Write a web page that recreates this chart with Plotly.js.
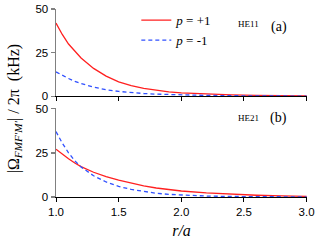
<!DOCTYPE html>
<html>
<head>
<meta charset="utf-8">
<script src="https://cdn.plot.ly/plotly-3.0.1.min.js"></script>
<style>html,body{margin:0;padding:0;background:#fff;}#chart{width:315px;height:246px;}</style>
</head>
<body>
<div id="chart"></div>
<script>
// r/a sample positions
var rA = [1.0, 1.05, 1.1, 1.15, 1.2, 1.3, 1.4, 1.5, 1.6, 1.7, 1.8, 1.9, 2.0, 2.2, 2.4, 2.6, 2.8, 3.0];
// Panel (a) HE11
var he11Plus  = [42, 35.5, 30, 25.8, 22, 16, 11.6, 8.3, 6.1, 4.5, 3.4, 2.6, 2.0, 1.25, 0.8, 0.5, 0.32, 0.2];
var he11Minus = [14, 12, 10.2, 8.6, 7.3, 5.3, 3.8, 2.8, 2.1, 1.6, 1.25, 1.0, 0.8, 0.5, 0.33, 0.22, 0.14, 0.1];
// Panel (b) HE21
var he21Plus  = [27, 24.2, 21.6, 19.2, 17.2, 14, 11.5, 9.5, 7.8, 6.3, 5.1, 4.2, 3.4, 2.3, 1.5, 1.0, 0.65, 0.4];
var he21Minus = [37, 30.5, 25, 20.5, 17, 12, 8.5, 6.0, 4.3, 3.0, 2.1, 1.5, 1.05, 0.55, 0.3, 0.17, 0.09, 0.05];
var legendNames = ['<i>p</i> = +1', '<i>p</i> = -1'];
var xTicks = [1.0, 1.5, 2.0, 2.5, 3.0];
var xTickText = ['1.0', '1.5', '2.0', '2.5', '3.0'];
var yTicks = [0, 25, 50];

var red = '#ff2020', blue = '#3050ff';
var traces = [
  {x: rA, y: he11Plus, xaxis: 'x', yaxis: 'y2', mode: 'lines', name: legendNames[0],
   line: {color: red, width: 1.3}, showlegend: true},
  {x: rA, y: he11Minus, xaxis: 'x', yaxis: 'y2', mode: 'lines', name: legendNames[1],
   line: {color: blue, width: 1.3, dash: '4px,3px'}, showlegend: true},
  {x: rA, y: he21Plus, xaxis: 'x2', yaxis: 'y', mode: 'lines',
   line: {color: red, width: 1.3}, showlegend: false},
  {x: rA, y: he21Minus, xaxis: 'x2', yaxis: 'y', mode: 'lines',
   line: {color: blue, width: 1.3, dash: '4px,3px'}, showlegend: false}
];

var tickFont = {family: 'Liberation Sans, Arial, sans-serif', size: 11.5, color: '#000'};
var serif = 'Liberation Serif, Times New Roman, serif';
function xa(showLabels, anchor) {
  return {range: [1.0, 3.003], anchor: anchor, tickvals: xTicks, ticktext: xTickText,
    showticklabels: showLabels, ticks: 'outside', ticklen: 4, tickcolor: '#000', tickwidth: 1,
    showline: true, linecolor: '#000', linewidth: 1, showgrid: false, zeroline: false,
    tickfont: tickFont, ticklabeloverflow: 'allow'};
}
function ya(domain, anchor) {
  return {range: [0, 50.1], domain: domain, anchor: anchor, tickvals: yTicks,
    ticks: 'outside', ticklen: 4, tickcolor: '#808080', tickwidth: 1.5,
    showline: true, linecolor: '#808080', linewidth: 1.5, showgrid: false, zeroline: false,
    tickfont: tickFont, ticklabeloverflow: 'allow'};
}
var layout = {
  width: 315, height: 246,
  margin: {l: 56, r: 8, t: 5, b: 49},
  paper_bgcolor: '#fff', plot_bgcolor: '#fff',
  xaxis: xa(false, 'y2'),
  xaxis2: Object.assign(xa(true, 'y'), {matches: 'x', title: {text: '<i>r/a</i>', font: {family: serif, size: 16, color: '#000'}, standoff: 8}}),
  yaxis: ya([0, 0.471], 'x2'),
  yaxis2: ya([0.5356, 1], 'x'),
  showlegend: true,
  legend: {x: 0.32, y: 1.02, xanchor: 'left', yanchor: 'top', bgcolor: 'rgba(0,0,0,0)',
    font: {family: serif, size: 13, color: '#000'}, itemwidth: 30, tracegroupgap: 0},
  annotations: [
    {text: '|Ω<sub><i>FMF\u2032M\u2032</i></sub>| / 2π  (kHz)', xref: 'paper', yref: 'paper',
     x: -0.165, y: 0.47, xanchor: 'center', yanchor: 'middle', textangle: -90, showarrow: false,
     font: {family: serif, size: 16, color: '#000'}},
    {text: 'HE11', xref: 'paper', yref: 'paper', x: 0.815, y: 0.955, showarrow: false,
     font: {family: serif, size: 9, color: '#000'}},
    {text: '(a)', xref: 'paper', yref: 'paper', x: 0.93, y: 0.955, showarrow: false,
     font: {family: serif, size: 14, color: '#000'}},
    {text: 'HE21', xref: 'paper', yref: 'paper', x: 0.815, y: 0.42, showarrow: false,
     font: {family: serif, size: 9, color: '#000'}},
    {text: '(b)', xref: 'paper', yref: 'paper', x: 0.93, y: 0.42, showarrow: false,
     font: {family: serif, size: 14, color: '#000'}}
  ]
};
Plotly.newPlot('chart', traces, layout, {staticPlot: true, displayModeBar: false});
</script>
</body>
</html>
